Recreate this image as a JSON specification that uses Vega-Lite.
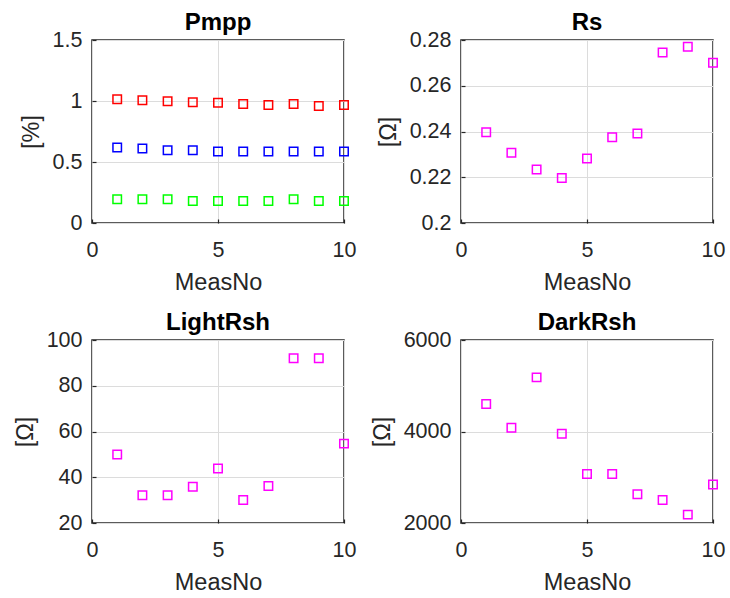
{
  "$schema": "https://vega.github.io/schema/vega-lite/v6.json",
  "padding": {"left": 12, "top": 10, "right": 5, "bottom": 2},
  "background": "white",
  "bounds": "flush",
  "columns": 2,
  "spacing": 117,
  "config": {
    "font": "Liberation Sans",
    "view": {"stroke": "#262626", "strokeWidth": 1.5},
    "axis": {
      "labelFont": "Liberation Sans",
      "labelFontSize": 21.5,
      "labelColor": "#262626",
      "labelPadding": 14,
      "labelFlush": false,
      "labelOverlap": false,
      "titleFont": "Liberation Sans",
      "titleFontSize": 23.5,
      "titleFontWeight": "normal",
      "titleColor": "#262626",
      "titlePadding": 9,
      "gridColor": "#dcdcdc",
      "gridWidth": 1,
      "domain": false,
      "ticks": true,
      "tickSize": -4,
      "tickColor": "#262626",
      "tickWidth": 1.2
    },
    "axisX": {"labelPadding": 20, "titlePadding": 10},
    "title": {"font": "Liberation Sans", "fontSize": 24, "fontWeight": "bold", "color": "#000000", "offset": -6, "frame": "group"},
    "point": {"shape": "square", "filled": false, "size": 72, "strokeWidth": 1.5, "opacity": 1}
  },
  "datasets": {
    "pmpp": [
      {"MeasNo": 1, "trace": "1", "Pmpp": 1.014}, {"MeasNo": 2, "trace": "1", "Pmpp": 1.006},
      {"MeasNo": 3, "trace": "1", "Pmpp": 0.997}, {"MeasNo": 4, "trace": "1", "Pmpp": 0.989},
      {"MeasNo": 5, "trace": "1", "Pmpp": 0.986}, {"MeasNo": 6, "trace": "1", "Pmpp": 0.975},
      {"MeasNo": 7, "trace": "1", "Pmpp": 0.967}, {"MeasNo": 8, "trace": "1", "Pmpp": 0.975},
      {"MeasNo": 9, "trace": "1", "Pmpp": 0.959}, {"MeasNo": 10, "trace": "1", "Pmpp": 0.967},
      {"MeasNo": 1, "trace": "2", "Pmpp": 0.619}, {"MeasNo": 2, "trace": "2", "Pmpp": 0.61},
      {"MeasNo": 3, "trace": "2", "Pmpp": 0.597}, {"MeasNo": 4, "trace": "2", "Pmpp": 0.597},
      {"MeasNo": 5, "trace": "2", "Pmpp": 0.586}, {"MeasNo": 6, "trace": "2", "Pmpp": 0.586},
      {"MeasNo": 7, "trace": "2", "Pmpp": 0.586}, {"MeasNo": 8, "trace": "2", "Pmpp": 0.586},
      {"MeasNo": 9, "trace": "2", "Pmpp": 0.586}, {"MeasNo": 10, "trace": "2", "Pmpp": 0.586},
      {"MeasNo": 1, "trace": "3", "Pmpp": 0.195}, {"MeasNo": 2, "trace": "3", "Pmpp": 0.195},
      {"MeasNo": 3, "trace": "3", "Pmpp": 0.195}, {"MeasNo": 4, "trace": "3", "Pmpp": 0.181},
      {"MeasNo": 5, "trace": "3", "Pmpp": 0.181}, {"MeasNo": 6, "trace": "3", "Pmpp": 0.181},
      {"MeasNo": 7, "trace": "3", "Pmpp": 0.181}, {"MeasNo": 8, "trace": "3", "Pmpp": 0.195},
      {"MeasNo": 9, "trace": "3", "Pmpp": 0.181}, {"MeasNo": 10, "trace": "3", "Pmpp": 0.181}
    ],
    "cell": [
      {"MeasNo": 1, "Rs": 0.2397, "LightRsh": 49.9, "DarkRsh": 4599},
      {"MeasNo": 2, "Rs": 0.2307, "LightRsh": 32.1, "DarkRsh": 4081},
      {"MeasNo": 3, "Rs": 0.2234, "LightRsh": 32.1, "DarkRsh": 5183},
      {"MeasNo": 4, "Rs": 0.2197, "LightRsh": 35.8, "DarkRsh": 3949},
      {"MeasNo": 5, "Rs": 0.2282, "LightRsh": 43.8, "DarkRsh": 3073},
      {"MeasNo": 6, "Rs": 0.2375, "LightRsh": 30.1, "DarkRsh": 3073},
      {"MeasNo": 7, "Rs": 0.2391, "LightRsh": 36.2, "DarkRsh": 2628},
      {"MeasNo": 8, "Rs": 0.2745, "LightRsh": 92.0, "DarkRsh": 2504},
      {"MeasNo": 9, "Rs": 0.2771, "LightRsh": 92.0, "DarkRsh": 2183},
      {"MeasNo": 10, "Rs": 0.2701, "LightRsh": 54.7, "DarkRsh": 2840}
    ]
  },
  "concat": [
    {
      "title": "Pmpp",
      "width": 252, "height": 183,
      "data": {"name": "pmpp"},
      "mark": {"type": "point"},
      "encoding": {
        "x": {"field": "MeasNo", "type": "quantitative", "scale": {"domain": [0, 10], "nice": false}, "axis": {"values": [0, 5, 10], "title": "MeasNo"}},
        "y": {"field": "Pmpp", "type": "quantitative", "scale": {"domain": [0, 1.5], "nice": false, "zero": false}, "axis": {"values": [0, 0.5, 1, 1.5], "format": "~g", "title": "[%]"}},
        "color": {"field": "trace", "type": "nominal", "scale": {"domain": ["1", "2", "3"], "range": ["#ff0000", "#0000ff", "#00ff00"]}, "legend": null}
      }
    },
    {
      "title": "Rs",
      "width": 252, "height": 183,
      "data": {"name": "cell"},
      "mark": {"type": "point", "color": "#ff00ff"},
      "encoding": {
        "x": {"field": "MeasNo", "type": "quantitative", "scale": {"domain": [0, 10], "nice": false}, "axis": {"values": [0, 5, 10], "title": "MeasNo"}},
        "y": {"field": "Rs", "type": "quantitative", "scale": {"domain": [0.2, 0.28], "nice": false, "zero": false}, "axis": {"values": [0.2, 0.22, 0.24, 0.26, 0.28], "format": "~g", "title": "[Ω]"}}
      }
    },
    {
      "title": "LightRsh",
      "width": 252, "height": 183,
      "data": {"name": "cell"},
      "mark": {"type": "point", "color": "#ff00ff"},
      "encoding": {
        "x": {"field": "MeasNo", "type": "quantitative", "scale": {"domain": [0, 10], "nice": false}, "axis": {"values": [0, 5, 10], "title": "MeasNo"}},
        "y": {"field": "LightRsh", "type": "quantitative", "scale": {"domain": [20, 100], "nice": false, "zero": false}, "axis": {"values": [20, 40, 60, 80, 100], "format": "d", "title": "[Ω]"}}
      }
    },
    {
      "title": "DarkRsh",
      "width": 252, "height": 183,
      "data": {"name": "cell"},
      "mark": {"type": "point", "color": "#ff00ff"},
      "encoding": {
        "x": {"field": "MeasNo", "type": "quantitative", "scale": {"domain": [0, 10], "nice": false}, "axis": {"values": [0, 5, 10], "title": "MeasNo"}},
        "y": {"field": "DarkRsh", "type": "quantitative", "scale": {"domain": [2000, 6000], "nice": false, "zero": false}, "axis": {"values": [2000, 4000, 6000], "format": "d", "title": "[Ω]"}}
      }
    }
  ]
}
